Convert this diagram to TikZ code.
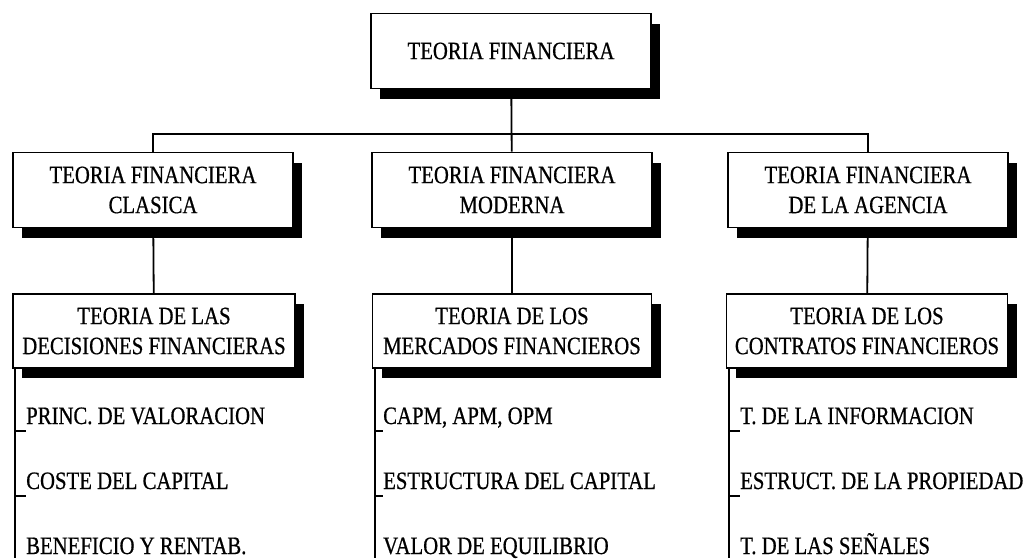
\documentclass[tikz,border=0pt]{standalone}
\usepackage{fontspec}
\setmainfont{Liberation Serif}[FakeStretch=0.83, FakeBold=0.6]
\usepackage{tikz}
\usetikzlibrary{positioning,calc,shadows}
\tikzset{tbox/.style={draw, line width=1.8pt, fill=white, align=center, inner sep=0pt,
    minimum width=280pt, minimum height=75pt,
    font=\fontsize{25}{30}\selectfont,
    drop shadow={shadow xshift=9pt, shadow yshift=-10pt, fill=black, opacity=1}}}
\tikzset{titem/.style={anchor=base west, inner sep=0pt, font=\fontsize{25}{30}\selectfont}}
\tikzset{lnk/.style={draw, line width=1.8pt}}

\begin{document}
\begin{tikzpicture}[x=1pt, y=-1pt]
    \useasboundingbox[fill=white] (0,0) rectangle (1026,558);
    % root
    \node[tbox] (TF) at (511,51) {TEORIA FINANCIERA};
    % second level
    \node[tbox] (CL) at (153,190) {TEORIA FINANCIERA\\CLASICA};
    \node[tbox] (MO) at (512,190) {TEORIA FINANCIERA\\MODERNA};
    \node[tbox] (AG) at (868,190) {TEORIA FINANCIERA\\DE LA AGENCIA};
    % third level
    \node[tbox, minimum width=282pt, minimum height=74pt] (DEC) at (154,331) {TEORIA DE LAS\\DECISIONES FINANCIERAS};
    \node[tbox, minimum width=279pt, minimum height=74pt] (MER) at (512,331) {TEORIA DE LOS\\MERCADOS FINANCIEROS};
    \node[tbox, minimum width=281pt, minimum height=74pt] (CON) at (867,331) {TEORIA DE LOS\\CONTRATOS FINANCIEROS};
    % items
    \node[titem] (DEC1) at (26,424) {PRINC. DE VALORACION};
    \node[titem] (DEC2) at (26,489) {COSTE DEL CAPITAL};
    \node[titem] (DEC3) at (26,554) {BENEFICIO Y RENTAB.};
    \node[titem] (MER1) at (383,424) {CAPM, APM, OPM};
    \node[titem] (MER2) at (383,489) {ESTRUCTURA DEL CAPITAL};
    \node[titem] (MER3) at (383,554) {VALOR DE EQUILIBRIO};
    \node[titem] (CON1) at (740,424) {T. DE LA INFORMACION};
    \node[titem] (CON2) at (740,489) {ESTRUCT. DE LA PROPIEDAD};
    \node[titem] (CON3) at (740,554) {T. DE LAS SEÑALES};
    \coordinate (DECe) at (15,558);
    \coordinate (MERe) at (375,558);
    \coordinate (CONe) at (729,558);
    % connectors
    \draw[lnk] (TF) -- (MO);
    \draw[lnk] (CL.north) -- ++(0,-18) -| (AG.north);
    \draw[lnk] (CL) -- (DEC);
    \draw[lnk] (MO) -- (MER);
    \draw[lnk] (AG) -- (CON);
    \foreach \b in {DEC,MER,CON}{
        \draw[lnk] (\b.south west -| \b e) -- (\b e);
        \draw[lnk] ([yshift=-7pt]\b 1.base west -| \b e) -- ([yshift=-7pt]\b 1.base west);
        \draw[lnk] ([yshift=-7pt]\b 2.base west -| \b e) -- ([yshift=-7pt]\b 2.base west);
    }
\end{tikzpicture}
\end{document}
